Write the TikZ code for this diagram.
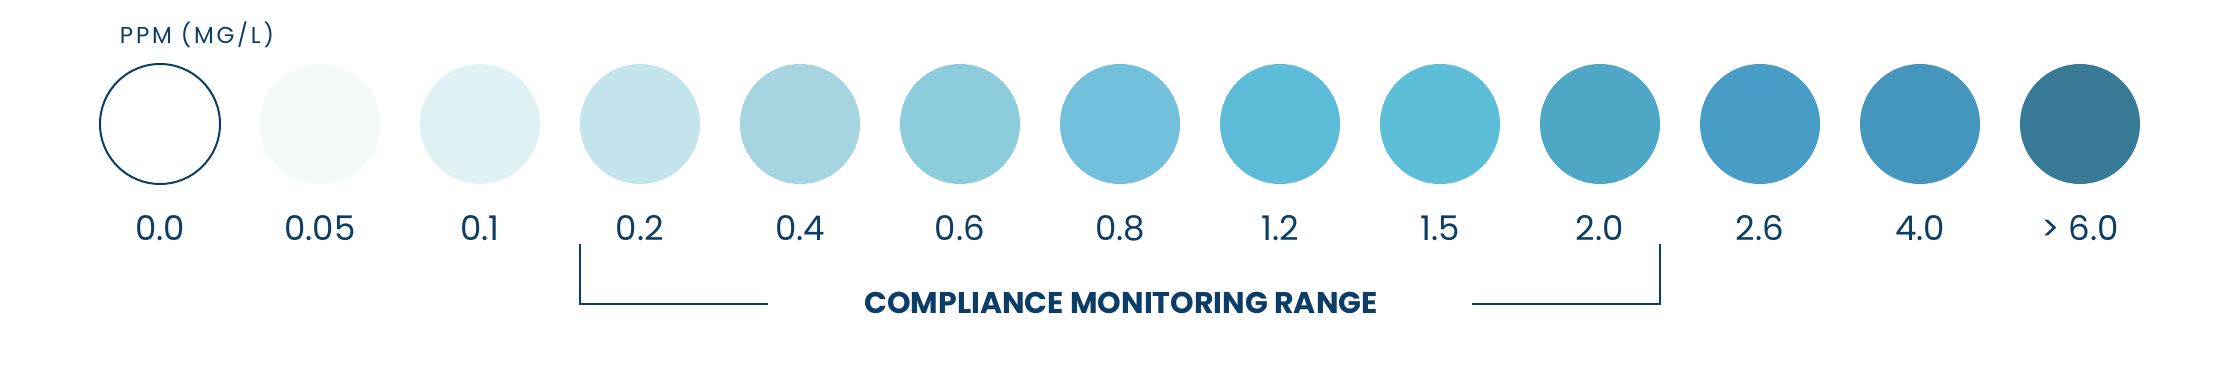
\documentclass[tikz,border=0pt]{standalone}
\usepackage{fontspec}
\setmainfont{Poppins}
\usepackage{tikz}
\definecolor{navy}{HTML}{0B3D66}
\definecolor{c1}{HTML}{F3F8F9}
\definecolor{c2}{HTML}{E0F1F4}
\definecolor{c3}{HTML}{C4E4EC}
\definecolor{c4}{HTML}{A6D4E0}
\definecolor{c5}{HTML}{8CCCDC}
\definecolor{c6}{HTML}{72C0DB}
\definecolor{c7}{HTML}{5DBCD8}
\definecolor{c8}{HTML}{5DBED8}
\definecolor{c9}{HTML}{4EA8C5}
\definecolor{c10}{HTML}{479DC6}
\definecolor{c11}{HTML}{4596BC}
\definecolor{c12}{HTML}{397A97}

\begin{document}
\begin{tikzpicture}[x=1pt,y=-1pt,
  dot/.style={circle,minimum size=120pt,inner sep=0pt},
  val/.style={anchor=base,text=navy,font=\fontsize{34}{34}\selectfont}]
\useasboundingbox (0,0) rectangle (2240,364);
\node (unit) [anchor=base,text=navy,font=\fontsize{23}{23}\selectfont\addfontfeatures{LetterSpace=12}] at (197,43) {PPM (MG/L)};
% circles
\node (d0) [dot,draw=navy,line width=2pt,fill=white] at (160,124) {};
\node (d1) [dot,fill=c1] at (320,124) {};
\node (d2) [dot,fill=c2] at (480,124) {};
\node (d3) [dot,fill=c3] at (640,124) {};
\node (d4) [dot,fill=c4] at (800,124) {};
\node (d5) [dot,fill=c5] at (960,124) {};
\node (d6) [dot,fill=c6] at (1120,124) {};
\node (d7) [dot,fill=c7] at (1280,124) {};
\node (d8) [dot,fill=c8] at (1440,124) {};
\node (d9) [dot,fill=c9] at (1600,124) {};
\node (d10) [dot,fill=c10] at (1760,124) {};
\node (d11) [dot,fill=c11] at (1920,124) {};
\node (d12) [dot,fill=c12] at (2080,124) {};
% values
\node (v0) [val] at (160,240) {0.0};
\node (v1) [val] at (320,240) {0.05};
\node (v2) [val] at (480,240) {0.1};
\node (v3) [val] at (640,240) {0.2};
\node (v4) [val] at (800,240) {0.4};
\node (v5) [val] at (960,240) {0.6};
\node (v6) [val] at (1120,240) {0.8};
\node (v7) [val] at (1280,240) {1.2};
\node (v8) [val] at (1440,240) {1.5};
\node (v9) [val] at (1600,240) {2.0};
\node (v10) [val] at (1760,240) {2.6};
\node (v11) [val] at (1920,240) {4.0};
\node (v12) [val] at (2080,240) {> 6.0};
% range bracket
\node (range) [anchor=base,text=navy,font=\fontsize{30}{30}\selectfont\bfseries] at (1121,313) {COMPLIANCE MONITORING RANGE};
\coordinate (lt) at (580,244);
\coordinate (le) at (768,304);
\coordinate (rt) at (1660,244);
\coordinate (re) at (1472,304);
\draw [navy,line width=2pt] (lt) |- (le);
\draw [navy,line width=2pt] (rt) |- (re);
\end{tikzpicture}
\end{document}
